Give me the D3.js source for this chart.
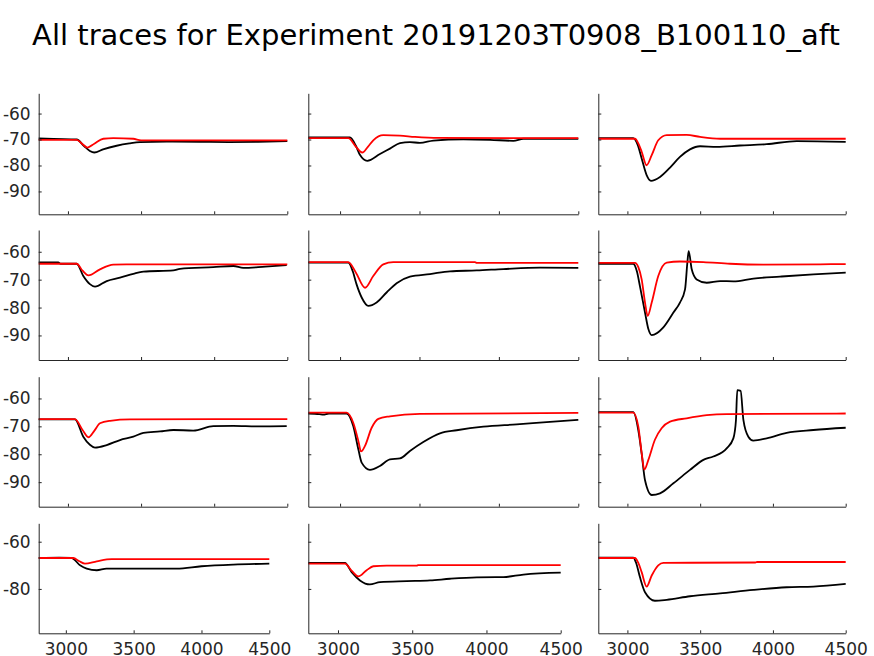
<!DOCTYPE html>
<html>
<head>
<meta charset="utf-8">
<script src="https://cdn.jsdelivr.net/npm/d3@7"></script>
<style>
  body { margin: 0; background: #fff; }
  svg { display: block; }
  .tick text { font-family: "DejaVu Sans", sans-serif; font-size: 17px; fill: #262626; }
  .axis path, .axis line { stroke: #262626; }
  .trace { fill: none; stroke-width: 1.8; stroke-linejoin: round; }
</style>
</head>
<body>
<svg id="chart" width="874" height="656"></svg>
<script>
const title = "All traces for Experiment 20191203T0908_B100110_aft";
const xTicks = [3000, 3500, 4000, 4500];
const yTicksFull = [-60, -70, -80, -90];
const yTicksBottom = [-60, -80];
const xDomain = [2800, 4500];
const yDomain = [-98.8, -52.2];

// row 1
const blackR1C1 = [[2800,-69.6],[2900,-69.8],[3060,-70],[3110,-72.5],[3150,-74.4],[3180,-75],[3240,-73.8],[3333,-72.4],[3420,-71.5],[3493,-71],[3675,-70.8],[3900,-70.9],[4100,-71],[4300,-70.9],[4500,-70.6]];
const redR1C1 = [[2800,-70.1],[3060,-70.1],[3100,-71.8],[3133,-73.1],[3180,-71.6],[3242,-69.7],[3310,-69.5],[3447,-69.7],[3500,-70.3],[4500,-70.3]];
const blackR1C2 = [[2800,-69.2],[3062,-69.2],[3100,-72.5],[3125,-75.9],[3171,-78.2],[3251,-75.6],[3314,-73.5],[3377,-71.4],[3440,-71],[3503,-71.3],[3587,-70.4],[3776,-69.9],[3944,-70.1],[4091,-70.5],[4154,-69.7],[4500,-69.7]];
const redR1C2 = [[2800,-69.5],[3052,-69.5],[3100,-72.8],[3140,-75],[3175,-72.8],[3209,-70.3],[3272,-68.3],[3377,-68.5],[3472,-69],[3619,-69.4],[4500,-69.5]];
const blackR1C3 = [[2800,-69.5],[3040,-69.5],[3070,-72],[3098,-77.3],[3132,-83.7],[3162,-85.9],[3224,-84.4],[3293,-80.8],[3361,-76.7],[3430,-73.8],[3499,-72.6],[3614,-72.8],[3774,-72.3],[3957,-71.8],[4163,-70.6],[4500,-70.9]];
const redR1C3 = [[2800,-69.7],[3052,-69.7],[3075,-71.5],[3098,-74.7],[3132,-79.9],[3167,-76],[3212,-70.3],[3270,-68.3],[3407,-68.2],[3499,-69],[3637,-69.7],[4500,-69.7]];

// row 2
const blackR2C1 = [[2800,-63.8],[2934,-63.8],[2950,-64.3],[3060,-64.3],[3105,-68.7],[3150,-71.6],[3185,-72.5],[3265,-70.5],[3356,-69.3],[3447,-67.9],[3516,-67.1],[3721,-66.7],[3766,-66.1],[3994,-65.5],[4131,-65.1],[4199,-65.8],[4350,-65.3],[4496,-64.8]];
const redR2C1 = [[2800,-64.3],[3060,-64.3],[3100,-66.8],[3140,-68.5],[3219,-66.3],[3310,-64.6],[3400,-64.5],[4500,-64.5]];
const blackR2C2 = [[2800,-63.9],[3052,-63.9],[3080,-67],[3104,-71.7],[3136,-76.4],[3178,-79.4],[3230,-78.2],[3293,-74.6],[3356,-71.3],[3440,-68.9],[3566,-68],[3692,-67],[3860,-66.7],[4028,-66.2],[4259,-65.7],[4500,-65.8]];
const redR2C2 = [[2800,-63.7],[3052,-63.7],[3100,-67.5],[3157,-72.9],[3209,-68.7],[3272,-64.5],[3335,-63.7],[3850,-63.7],[3860,-64],[4500,-64]];
const blackR2C3 = [[2800,-64.3],[3040,-64.3],[3065,-67],[3086,-72.3],[3121,-81.8],[3144,-87.7],[3167,-89.9],[3247,-87.1],[3316,-81.8],[3361,-78.2],[3396,-73.5],[3412,-63.9],[3421,-59.8],[3442,-66.3],[3476,-69.9],[3545,-71.1],[3637,-70.5],[3728,-70.6],[3866,-69.6],[4049,-68.9],[4278,-68.1],[4500,-67.5]];
const redR2C3 = [[2800,-64],[3052,-64],[3075,-65.5],[3098,-69.9],[3121,-78.2],[3139,-83],[3167,-78.2],[3212,-68.7],[3270,-63.9],[3361,-63.5],[3522,-63.7],[3705,-64.3],[3934,-64.6],[4324,-64.5],[4500,-64.4]];

// row 3
const blackR3C1 = [[2800,-67.5],[3048,-67.5],[3105,-73.7],[3150,-76.6],[3185,-77.6],[3265,-76.7],[3356,-74.9],[3447,-73.7],[3516,-72.3],[3630,-71.8],[3721,-71.3],[3857,-71.5],[3994,-69.9],[4131,-69.8],[4300,-70],[4496,-69.9]];
const redR3C1 = [[2800,-67.4],[3048,-67.4],[3100,-71.3],[3140,-73.9],[3180,-71.6],[3219,-68.9],[3288,-68],[3424,-67.5],[4500,-67.4]];
const blackR3C2 = [[2800,-65.4],[2870,-65.6],[2894,-65.8],[2930,-65.4],[3041,-65.4],[3083,-69.9],[3115,-78.2],[3136,-83],[3188,-85.6],[3251,-84.2],[3314,-81.8],[3377,-81.5],[3440,-78.8],[3524,-75.6],[3629,-72.5],[3734,-71.4],[3902,-70.1],[4112,-69.3],[4300,-68.5],[4500,-67.7]];
const redR3C2 = [[2800,-65.1],[3041,-65.1],[3083,-68.7],[3115,-75.2],[3132,-79],[3157,-77],[3199,-70.5],[3241,-67.3],[3314,-66.4],[3503,-65.5],[4500,-65.2]];
const blackR3C3 = [[2800,-64.9],[3040,-64.9],[3075,-71.4],[3098,-79.8],[3121,-89.3],[3167,-94.6],[3224,-94],[3316,-90.4],[3430,-85.6],[3522,-82],[3590,-80.8],[3682,-77.9],[3728,-74.3],[3746,-67.7],[3755,-57],[3778,-57.3],[3797,-67.7],[3831,-73.7],[3865,-75.1],[3957,-74.3],[4094,-72.3],[4278,-71.3],[4500,-70.5]];
const redR3C3 = [[2800,-65.1],[3040,-65.1],[3075,-70.1],[3098,-79.6],[3116,-85.5],[3144,-82],[3189,-74.8],[3235,-70.7],[3293,-68.3],[3407,-67.1],[3545,-66],[3682,-65.6],[4500,-65.4]];

// row 4
const blackR4C1 = [[2800,-66.9],[2950,-66.8],[3043,-66.9],[3105,-70],[3154,-71.4],[3228,-72.1],[3300,-71.4],[3817,-71.4],[4000,-70.4],[4235,-69.7],[4500,-69.3]];
const redR4C1 = [[2800,-66.9],[3055,-66.9],[3100,-68.3],[3141,-69.3],[3228,-68.3],[3338,-67.4],[4500,-67.4]];
const blackR4C2 = [[2800,-69],[3047,-69],[3092,-72.9],[3148,-76.4],[3215,-78.1],[3283,-77.1],[3463,-76.7],[3620,-76.4],[3755,-75.7],[3935,-75.1],[4114,-75],[4249,-73.9],[4500,-73.1]];
const redR4C2 = [[2800,-69.3],[3047,-69.3],[3095,-72.5],[3137,-74.7],[3193,-72.1],[3238,-70.4],[3328,-70.1],[3530,-70.1],[3540,-69.9],[4500,-69.9]];
const blackR4C3 = [[2800,-66.7],[3040,-66.7],[3060,-69],[3086,-75],[3121,-81.4],[3189,-85],[3270,-84.6],[3430,-83.1],[3637,-81.9],[3866,-80.4],[4094,-79.3],[4278,-79],[4500,-77.9]];
const redR4C3 = [[2800,-66.9],[3052,-66.9],[3075,-69],[3098,-72.9],[3132,-79],[3167,-74.3],[3212,-70],[3247,-69],[3880,-68.8],[3890,-68.6],[4500,-68.6]];

const traces = [
  [[blackR1C1, redR1C1], [blackR1C2, redR1C2], [blackR1C3, redR1C3]],
  [[blackR2C1, redR2C1], [blackR2C2, redR2C2], [blackR2C3, redR2C3]],
  [[blackR3C1, redR3C1], [blackR3C2, redR3C2], [blackR3C3, redR3C3]],
  [[blackR4C1, redR4C1], [blackR4C2, redR4C2], [blackR4C3, redR4C3]]
];
const traceColors = ["#000000", "#ff0000"];

const colLeft = [38.7, 308.3, 598.3];
const colRight = [287.3, 578.3, 845.7];
const colRightBottom = [269.3, 560.7, 845.7];
const rowTop = [93.3, 230, 376.7, 523.3];
const rowBottom = [214.3, 360, 506.7, 633.3];

const svg = d3.select("#chart");

svg.append("text")
    .attr("x", 436)
    .attr("y", 45)
    .attr("text-anchor", "middle")
    .style("font-family", "DejaVu Sans, sans-serif")
    .style("font-size", "29px")
    .style("fill", "#000")
    .text(title);

const plainNumber = d => String(d);   // hyphen minus, like the figure

traces.forEach(function(row, r) {
    const lastRow = r === traces.length - 1;
    row.forEach(function(pair, c) {
        const right = lastRow ? colRightBottom[c] : colRight[c];
        const x = d3.scaleLinear().domain(xDomain).range([colLeft[c], right]);
        const y = d3.scaleLinear().domain(yDomain).range([rowBottom[r], rowTop[r]]);
        const g = svg.append("g");

        const line = d3.line()
            .x(d => x(d[0]))
            .y(d => y(d[1]))
            .curve(d3.curveMonotoneX);

        pair.forEach(function(series, i) {
            g.append("path")
                .attr("class", "trace")
                .attr("d", line(series))
                .attr("stroke", traceColors[i]);
        });

        // axes with inward ticks
        const xAxis = d3.axisBottom(x).tickValues(xTicks).tickSizeInner(-3).tickSizeOuter(0)
            .tickFormat(lastRow ? plainNumber : "");
        const xg = g.append("g")
            .attr("class", "axis")
            .attr("transform", `translate(0,${rowBottom[r]})`)
            .call(xAxis);
        xg.selectAll(".tick text").attr("dy", 0).attr("y", 22);

        const yAxis = d3.axisLeft(y).tickValues(lastRow ? yTicksBottom : yTicksFull)
            .tickSizeInner(-3).tickSizeOuter(0)
            .tickFormat(c === 0 ? plainNumber : "");
        const yg = g.append("g")
            .attr("class", "axis")
            .attr("transform", `translate(${colLeft[c]},0)`)
            .call(yAxis);
        yg.selectAll(".tick text").attr("x", -8);
    });
});
</script>
</body>
</html>
